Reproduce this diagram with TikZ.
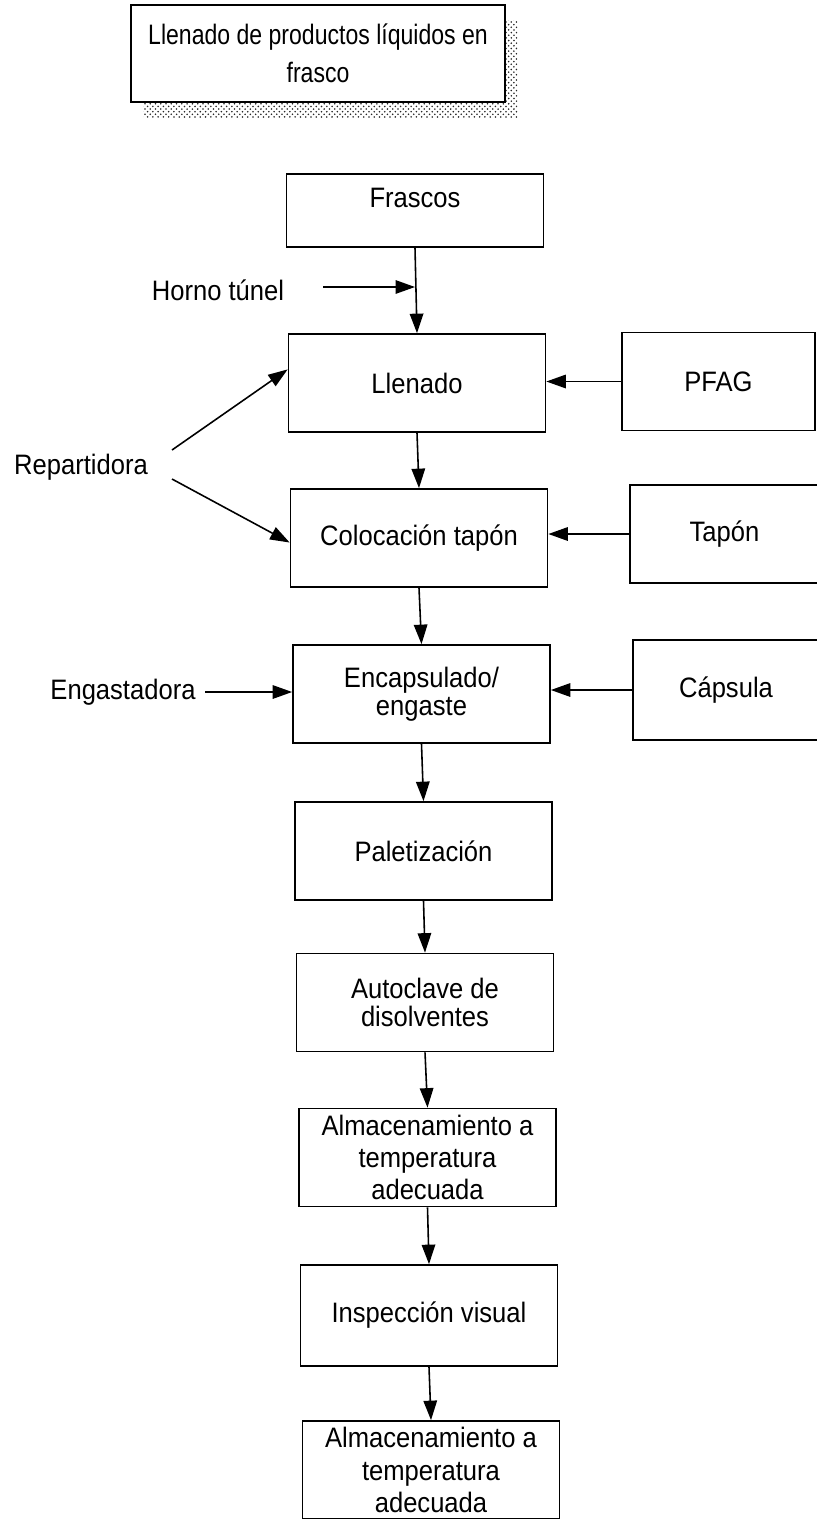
\documentclass[tikz,border=0pt]{standalone}
\usepackage{fontspec}
\setmainfont{Liberation Sans}
\newfontfamily\cuerpo[FakeStretch=0.91]{Liberation Sans}
\newfontfamily\titular[FakeStretch=0.82]{Liberation Sans}
\usetikzlibrary{arrows.meta,patterns,calc}

\tikzset{
  caja/.style={draw, line width=1pt, align=center, inner sep=0pt,
    minimum width=5.14cm, minimum height=1.96cm,
    font=\fontsize{16}{16}\cuerpo},
  lateral/.style={caja, minimum width=3.8cm},
  tres lineas/.style={font=\fontsize{16}{18.3}\cuerpo},
  etiqueta/.style={inner sep=0pt, font=\fontsize{16}{16}\cuerpo},
  flecha/.style={line width=0.9pt, -{Triangle[length=3.9mm,width=2.7mm]}},
}

\begin{document}
\begin{tikzpicture}[x=0.02cm, y=-0.02cm]
\useasboundingbox (0,0) rectangle (817,1519);

% titulo con sombra
\fill[pattern=crosshatch dots, pattern color=black!85] (143,20) rectangle (517,117);
\node[caja, fill=white, minimum width=7.48cm, minimum height=1.94cm,
      font=\fontsize{16}{21.5}\titular] (titulo) at (318,53.5)
      {Llenado de productos líquidos en\\ frasco};

% columna central
\node[caja, minimum height=1.46cm, text depth=0.5cm] (frascos) at (415,210.5) {Frascos};
\node[caja] (llenado) at (417,383) {Llenado};
\node[caja] (coloc) at (419,538) {Colocación tapón};
\node[caja] (encap) at (421.5,694) {Encapsulado/\\ engaste};
\node[caja] (palet) at (423.5,851) {Paletización};
\node[caja] (autoc) at (425,1002.5) {Autoclave de\\ disolventes};
\node[caja, tres lineas] (almac) at (427.5,1157.5)
      {Almacenamiento a\\ temperatura\\ adecuada};
\node[caja, minimum height=2.02cm] (inspec) at (429,1315.5) {Inspección visual};
\node[caja, tres lineas] (almacB) at (431,1470)
      {Almacenamiento a\\ temperatura\\ adecuada};

% entradas laterales
\node[lateral, minimum width=3.86cm] (pfag) at (718.5,381.5) {PFAG};
\node[lateral, minimum width=3.78cm] (tapon) at (724.5,534) {Tapón};
\node[lateral, minimum width=3.72cm, minimum height=2cm] (capsula) at (726,690) {Cápsula};

\node[etiqueta] (horno) at (218,290) {Horno túnel};
\node[etiqueta] (repart) at (81,467) {Repartidora};
\node[etiqueta] (engast) at (123,692) {Engastadora};
\coordinate (hornoIni) at (323,287);
\coordinate (repArr) at (172,450);
\coordinate (repAba) at (172,479);
\coordinate (engIni) at (205,692);

% flechas
\draw[flecha] (frascos.south) -- (llenado.north);
\draw[flecha] (hornoIni) -- (hornoIni -| frascos.south);
\draw[flecha] (llenado.south) -- (coloc.north);
\draw[flecha] (coloc.south) -- (encap.north);
\draw[flecha] (encap.south) -- (palet.north);
\draw[flecha] (palet.south) -- (autoc.north);
\draw[flecha] (autoc.south) -- (almac.north);
\draw[flecha] (almac.south) -- (inspec.north);
\draw[flecha] (inspec.south) -- (almacB.north);
\draw[flecha] (pfag.west) -- (pfag.west -| llenado.east);
\draw[flecha] (tapon.west) -- (tapon.west -| coloc.east);
\draw[flecha] (capsula.west) -- (capsula.west -| encap.east);
\draw[flecha] (engIni) -- (engIni -| encap.west);
\draw[flecha] (repArr) -- (llenado.174);
\draw[flecha] (repAba) -- (coloc.182);
\end{tikzpicture}
\end{document}
